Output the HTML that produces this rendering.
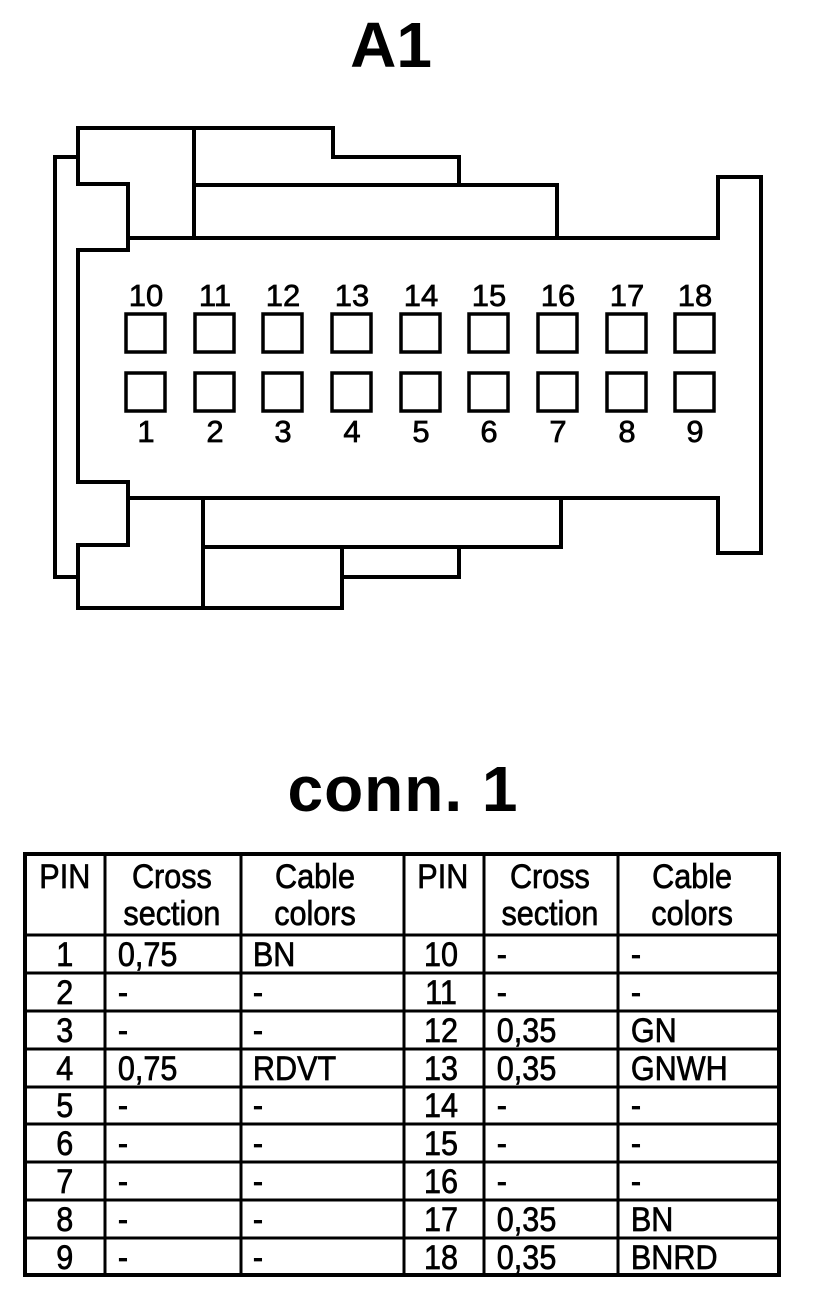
<!DOCTYPE html>
<html><head><meta charset="utf-8"><style>
html,body{margin:0;padding:0;background:#fff;}
svg{display:block;}
text{font-family:"Liberation Sans",Arial,sans-serif;fill:#000;}
.t{stroke:#000;stroke-width:0.7;}
</style></head><body>
<svg width="832" height="1316" viewBox="0 0 832 1316" xmlns="http://www.w3.org/2000/svg">
<rect width="832" height="1316" fill="#fff"/>
<text x="391" y="67" font-size="64" font-weight="bold" text-anchor="middle">A1</text>
<g fill="none" stroke="#000" stroke-width="4" stroke-linejoin="miter">
<polyline points="78,157 55,157 55,577 78,577"/>
<polygon points="78,128 333,128 333,157 459,157 459,185 557,185 557,238 718,238 718,177 761,177 761,553 718,553 718,498 561,498 561,547 459,547 459,577 342,577 342,608 78,608 78,545 128,545 128,482 78,482 78,250 128,250 128,184 78,184"/>
<line x1="194" y1="128" x2="194" y2="238"/>
<line x1="194" y1="185" x2="459" y2="185"/>
<line x1="128" y1="238" x2="718" y2="238"/>
<line x1="128" y1="498" x2="718" y2="498"/>
<line x1="203" y1="498" x2="203" y2="608"/>
<line x1="203" y1="547" x2="561" y2="547"/>
<line x1="342" y1="547" x2="342" y2="577"/>
</g>
<g fill="none" stroke="#000" stroke-width="3.5">
<rect x="126" y="314" width="39" height="38"/><rect x="195" y="314" width="39" height="38"/><rect x="263" y="314" width="39" height="38"/><rect x="332" y="314" width="39" height="38"/><rect x="401" y="314" width="39" height="38"/><rect x="469" y="314" width="39" height="38"/><rect x="538" y="314" width="39" height="38"/><rect x="607" y="314" width="39" height="38"/><rect x="675" y="314" width="39" height="38"/>
<rect x="126" y="373" width="39" height="38"/><rect x="195" y="373" width="39" height="38"/><rect x="263" y="373" width="39" height="38"/><rect x="332" y="373" width="39" height="38"/><rect x="401" y="373" width="39" height="38"/><rect x="469" y="373" width="39" height="38"/><rect x="538" y="373" width="39" height="38"/><rect x="607" y="373" width="39" height="38"/><rect x="675" y="373" width="39" height="38"/>
</g>
<g font-size="31" text-anchor="middle" class="t">
<text x="146" y="306">10</text><text x="215" y="306">11</text><text x="283" y="306">12</text><text x="352" y="306">13</text><text x="421" y="306">14</text><text x="489" y="306">15</text><text x="558" y="306">16</text><text x="627" y="306">17</text><text x="695" y="306">18</text>
<text x="146" y="442">1</text><text x="215" y="442">2</text><text x="283" y="442">3</text><text x="352" y="442">4</text><text x="421" y="442">5</text><text x="489" y="442">6</text><text x="558" y="442">7</text><text x="627" y="442">8</text><text x="695" y="442">9</text>
</g>
<text x="403" y="811" font-size="64" font-weight="bold" text-anchor="middle" letter-spacing="1">conn. 1</text>
<g stroke="#000" fill="none">
<rect x="25" y="854" width="754" height="421" stroke-width="4"/>
<g stroke-width="3">
<line x1="105" y1="854" x2="105" y2="1275"/><line x1="241" y1="854" x2="241" y2="1275"/><line x1="404" y1="854" x2="404" y2="1275"/><line x1="484" y1="854" x2="484" y2="1275"/><line x1="618" y1="854" x2="618" y2="1275"/>
<line x1="25" y1="935" x2="779" y2="935"/><line x1="25" y1="973" x2="779" y2="973"/><line x1="25" y1="1011" x2="779" y2="1011"/><line x1="25" y1="1049" x2="779" y2="1049"/><line x1="25" y1="1087" x2="779" y2="1087"/><line x1="25" y1="1124" x2="779" y2="1124"/><line x1="25" y1="1162" x2="779" y2="1162"/><line x1="25" y1="1200" x2="779" y2="1200"/><line x1="25" y1="1238" x2="779" y2="1238"/>
</g></g>
<g font-size="34" transform="scale(0.9,1)" class="t">
<g text-anchor="middle">
<text x="72" y="888">PIN</text><text x="191" y="888">Cross</text><text x="191" y="925">section</text><text x="350" y="888">Cable</text><text x="350" y="925">colors</text>
<text x="492" y="888">PIN</text><text x="611" y="888">Cross</text><text x="611" y="925">section</text><text x="769" y="888">Cable</text><text x="769" y="925">colors</text>
<text x="72" y="966">1</text><text x="72" y="1004">2</text><text x="72" y="1042">3</text><text x="72" y="1080">4</text><text x="72" y="1117">5</text><text x="72" y="1155">6</text><text x="72" y="1193">7</text><text x="72" y="1231">8</text><text x="72" y="1269">9</text>
<text x="490" y="966">10</text><text x="490" y="1004">11</text><text x="490" y="1042">12</text><text x="490" y="1080">13</text><text x="490" y="1117">14</text><text x="490" y="1155">15</text><text x="490" y="1193">16</text><text x="490" y="1231">17</text><text x="490" y="1269">18</text>
</g>
<text x="131" y="966">0,75</text><text x="281" y="966">BN</text><text x="552" y="966">-</text><text x="701" y="966">-</text>
<text x="131" y="1004">-</text><text x="281" y="1004">-</text><text x="552" y="1004">-</text><text x="701" y="1004">-</text>
<text x="131" y="1042">-</text><text x="281" y="1042">-</text><text x="552" y="1042">0,35</text><text x="701" y="1042">GN</text>
<text x="131" y="1080">0,75</text><text x="281" y="1080">RDVT</text><text x="552" y="1080">0,35</text><text x="701" y="1080">GNWH</text>
<text x="131" y="1117">-</text><text x="281" y="1117">-</text><text x="552" y="1117">-</text><text x="701" y="1117">-</text>
<text x="131" y="1155">-</text><text x="281" y="1155">-</text><text x="552" y="1155">-</text><text x="701" y="1155">-</text>
<text x="131" y="1193">-</text><text x="281" y="1193">-</text><text x="552" y="1193">-</text><text x="701" y="1193">-</text>
<text x="131" y="1231">-</text><text x="281" y="1231">-</text><text x="552" y="1231">0,35</text><text x="701" y="1231">BN</text>
<text x="131" y="1269">-</text><text x="281" y="1269">-</text><text x="552" y="1269">0,35</text><text x="701" y="1269">BNRD</text>
</g>
</svg>
</body></html>
